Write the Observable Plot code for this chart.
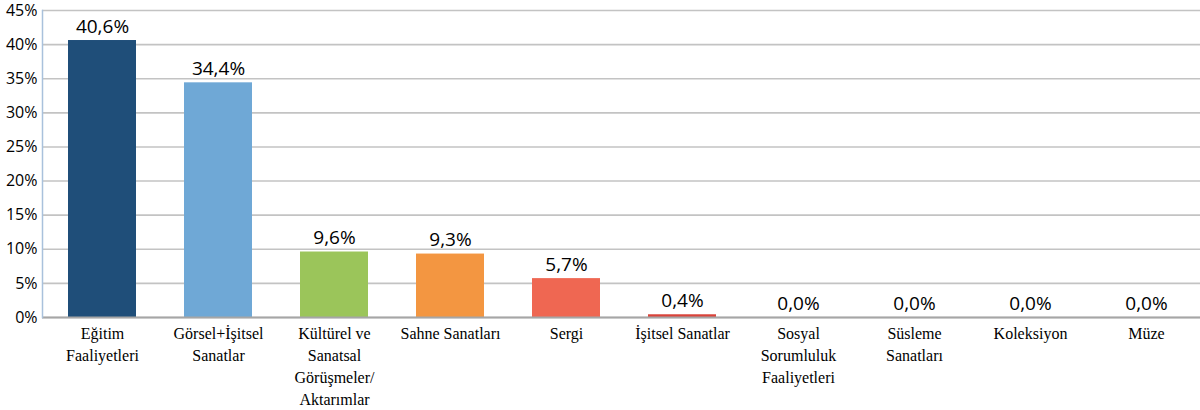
<!DOCTYPE html>
<html>
<head>
<meta charset="utf-8">
<script src="https://cdn.jsdelivr.net/npm/d3@7"></script>
<script src="https://cdn.jsdelivr.net/npm/@observablehq/plot@0.6"></script>
<style>
  html, body { margin: 0; padding: 0; background: #fff; overflow: hidden; }
  svg { max-width: none !important; }
</style>
</head>
<body>
<div id="chart"></div>
<script>
const categories = [
  "Eğitim\nFaaliyetleri",
  "Görsel+İşitsel\nSanatlar",
  "Kültürel ve\nSanatsal\nGörüşmeler/\nAktarımlar",
  "Sahne Sanatları",
  "Sergi",
  "İşitsel Sanatlar",
  "Sosyal\nSorumluluk\nFaaliyetleri",
  "Süsleme\nSanatları",
  "Koleksiyon",
  "Müze"
];
const values = [0.406, 0.344, 0.096, 0.093, 0.057, 0.004, 0.0, 0.0, 0.0, 0.0];
const colors = ["#1f4e79", "#6fa8d6", "#9bc55a", "#f39641", "#ef6752", "#d9433a", "#d9433a", "#d9433a", "#d9433a", "#d9433a"];
const yTicks = [0, 0.05, 0.10, 0.15, 0.20, 0.25, 0.30, 0.35, 0.40, 0.45];

const data = categories.map((c, i) => ({cat: c, value: values[i], color: colors[i]}));
const pct = v => (v * 100).toFixed(1).replace(".", ",") + "%";

const chart = Plot.plot({
  width: 1207,
  height: 410,
  marginLeft: 42,
  marginRight: 0,
  marginTop: 10,
  marginBottom: 93,
  style: {background: "#fff", maxWidth: "none"},
  x: {domain: categories, paddingInner: 0.41, paddingOuter: 0.205, label: null},
  y: {domain: [0, 0.45], label: null},
  marks: [
    Plot.gridY(yTicks, {stroke: "#c3c3c3", strokeOpacity: 1, strokeWidth: 1.6}),
    Plot.barY(data, {x: "cat", y: "value", fill: "color"}),
    Plot.ruleY([0], {stroke: "#a6a6a6", strokeWidth: 2}),
    Plot.frame({anchor: "left", stroke: "#a9c1dc", strokeWidth: 1.5}),
    Plot.text(data, {x: "cat", y: "value", text: d => pct(d.value), dy: -14,
      fontSize: 19, fill: "#000", fontFamily: "'Open Sans', 'Noto Sans', sans-serif"}),
    Plot.axisY({ticks: yTicks, tickFormat: d => Math.round(d * 100) + "%", tickSize: 0, tickPadding: 5,
      fontSize: 16, fill: "#000", fontFamily: "'Open Sans', 'Noto Sans', sans-serif", label: null}),
    Plot.axisX({tickSize: 0, tickPadding: 6, fontSize: 16, lineHeight: 1.375, fill: "#000",
      fontFamily: "'Liberation Serif', 'DejaVu Serif', serif", label: null})
  ]
});
document.getElementById("chart").appendChild(chart);
</script>
</body>
</html>
